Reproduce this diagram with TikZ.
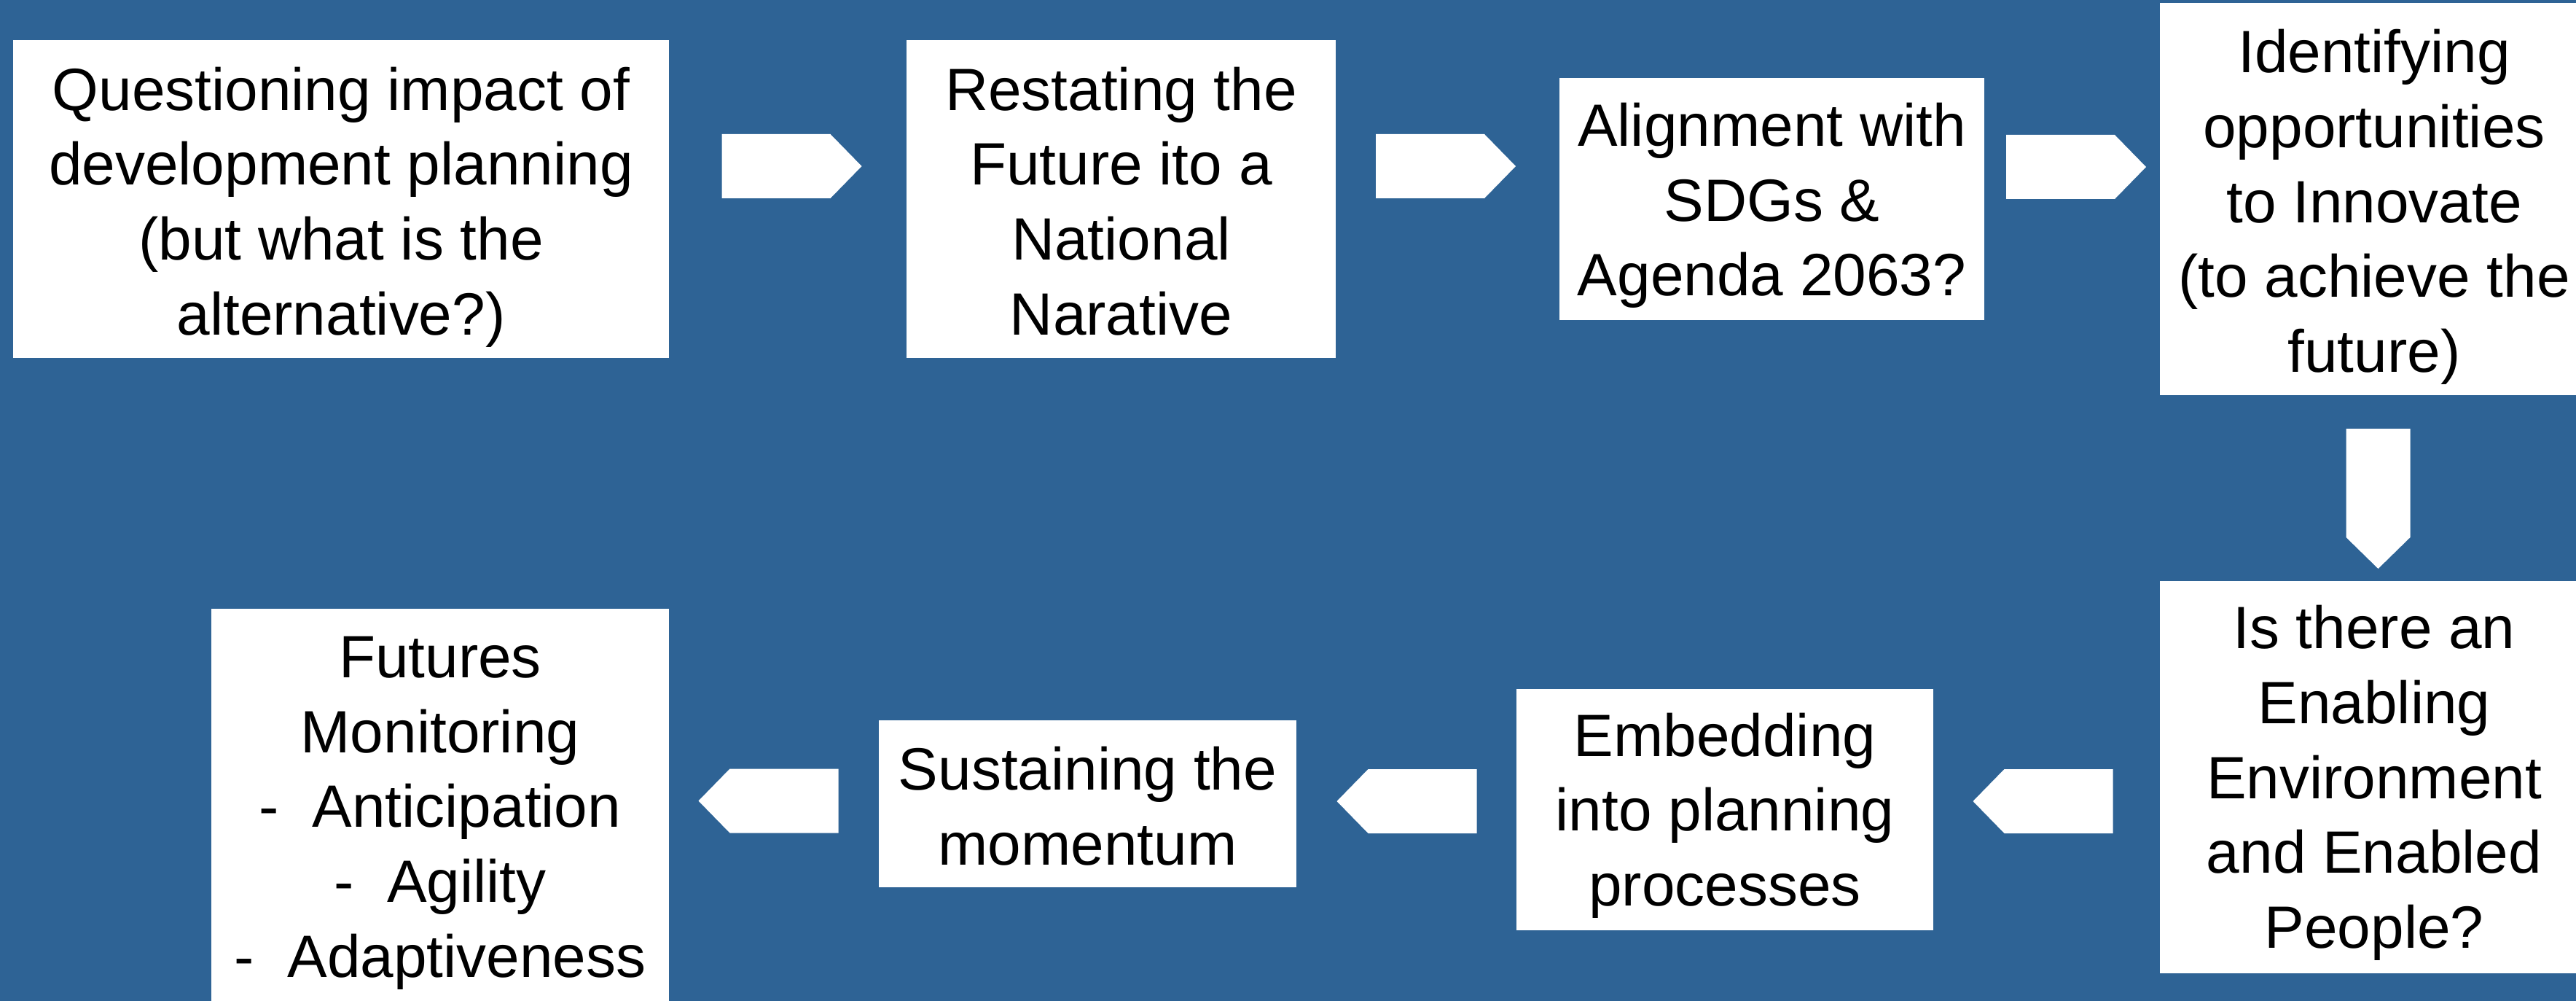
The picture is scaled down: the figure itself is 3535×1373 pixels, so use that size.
\documentclass[tikz,border=0pt]{standalone}
\usepackage{fontspec}
\setmainfont{Liberation Sans}
\definecolor{bg}{RGB}{46,99,149}
\begin{document}
\begin{tikzpicture}[x=0.01cm,y=-0.01cm,
  box/.style={fill=white, draw=none, inner sep=0pt},
  txt/.style={inner sep=0pt, text=black, align=center,
    font=\fontsize{23.3pt}{29.2pt}\selectfont},
  blockarrow/.pic={\fill[white] (-96,-44) -- (53,-44) -- (96,0) -- (53,44) -- (-96,44) -- cycle;}]
\useasboundingbox (0,0) rectangle (3535,1373);
\fill[bg] (0,0) rectangle (3535,1373);
% boxes
\node[box, minimum width=9cm, minimum height=4.36cm] (b1) at (468,273) {};
\node[box, minimum width=5.89cm, minimum height=4.36cm] (b2) at (1538.5,273) {};
\node[box, minimum width=5.83cm, minimum height=3.32cm] (b3) at (2431.5,273) {};
\node[box, minimum width=5.88cm, minimum height=5.38cm] (b4) at (3258,273) {};
\node[box, minimum width=5.88cm, minimum height=5.38cm] (b5) at (3258,1066) {};
\node[box, minimum width=5.72cm, minimum height=3.31cm] (b6) at (2367,1110.5) {};
\node[box, minimum width=5.73cm, minimum height=2.29cm] (b7) at (1492.5,1102.5) {};
\node[box, minimum width=6.28cm, minimum height=5.42cm] (b8) at (604,1106) {};
% texts
\node[txt, yshift=-0.11cm] (t1) at (b1) {Questioning impact of\\development planning\\(but what is the\\alternative?)};
\node[txt, yshift=-0.03cm] (t2) at (b2) {Restating the\\Future ito a\\National\\Narative};
\node[txt, yshift=-0.09cm] (t3) at (b3) {Alignment with\\SDGs \&\\Agenda 2063?};
\node[txt, yshift=-0.11cm] (t4) at (b4) {Identifying\\opportunities\\to Innovate\\(to achieve the\\future)};
\node[txt, yshift=-0.08cm] (t5) at (b5) {Is there an\\Enabling\\Environment\\and Enabled\\People?};
\node[txt, yshift=-0.08cm] (t6) at (b6) {Embedding\\into planning\\processes};
\node[txt, yshift=-0.03cm] (t7) at (b7) {Sustaining the\\momentum};
\node[txt, yshift=-0.09cm] (t8) at (b8) {Futures\\Monitoring\\-\ \ Anticipation\\-\ \ Agility\\-\ \ Adaptiveness};
% block arrows
\pic (a1) at (1086.5,228) {blockarrow};
\pic (a2) at (1984,228) {blockarrow};
\pic (a3) at (2849,229) {blockarrow};
\pic[rotate=-90] (a4) at (3263.5,684) {blockarrow};
\pic[rotate=180] (a5) at (2803.5,1099) {blockarrow};
\pic[rotate=180] (a6) at (1930.5,1099) {blockarrow};
\pic[rotate=180] (a7) at (1054.5,1098.5) {blockarrow};
\end{tikzpicture}
\end{document}
